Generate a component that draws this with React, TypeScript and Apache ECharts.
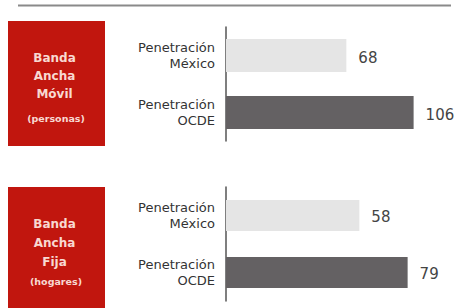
import React, { useEffect, useRef } from "react";
import * as echarts from "echarts";

const categories = ["Penetración\nMéxico", "Penetración\nOCDE"];
const movilValues = [68, 106];
const fijaValues = [58, 79];
const barColors = ["#e5e5e5", "#646163"];
const panel1Lines = ["Banda", "Ancha", "Móvil"];
const panel1Sub = "(personas)";
const panel2Lines = ["Banda", "Ancha", "Fija"];
const panel2Sub = "(hogares)";

const FONT = "DejaVu Sans";

function boxGraphics(top: number, lineYs: number[], lines: string[], sub: string, subY: number) {
  const els: any[] = [
    { type: "rect", shape: { x: 8, y: top, width: 97, height: 125 }, style: { fill: "#c1160e" } },
  ];
  lines.forEach((t, i) => {
    els.push({
      type: "text",
      x: 54.5,
      y: lineYs[i],
      style: {
        text: t,
        fill: "#f8d9d2",
        font: `bold 12px '${FONT}'`,
        align: "center",
        verticalAlign: "middle",
      },
    });
  });
  els.push({
    type: "text",
    x: 56,
    y: subY,
    style: {
      text: sub,
      fill: "#f8d9d2",
      font: `bold 9.5px '${FONT}'`,
      align: "center",
      verticalAlign: "middle",
    },
  });
  return els;
}

export default function App() {
  const ref = useRef<HTMLDivElement>(null);
  useEffect(() => {
    if (!ref.current) return;
    const chart = echarts.init(ref.current, null, { renderer: "svg" });
    const mkData = (vals: number[]) =>
      vals.map((v, i) => ({ value: v, itemStyle: { color: barColors[i] } }));
    const yAxisCommon = {
      type: "category",
      data: categories,
      inverse: true,
      axisTick: { show: false },
      axisLine: { show: true, lineStyle: { color: "#555", width: 1.5 } },
      axisLabel: {
        color: "#333",
        fontFamily: FONT,
        fontSize: 13,
        lineHeight: 16,
        align: "right",
        margin: 11,
      },
    };
    const labelCommon = {
      show: true,
      position: "right",
      distance: 12,
      color: "#444",
      fontFamily: FONT,
      fontSize: 15,
    };
    chart.setOption({
      animation: false,
      grid: [
        { left: 226, top: 27, width: 200, height: 114 },
        { left: 226, top: 187, width: 200, height: 114 },
      ],
      xAxis: [
        { type: "value", gridIndex: 0, min: 0, max: 113, show: false },
        { type: "value", gridIndex: 1, min: 0, max: 87, show: false },
      ],
      yAxis: [
        { ...yAxisCommon, gridIndex: 0 },
        { ...yAxisCommon, gridIndex: 1 },
      ],
      series: [
        {
          type: "bar",
          xAxisIndex: 0,
          yAxisIndex: 0,
          barWidth: 33,
          data: mkData(movilValues),
          label: { ...labelCommon, offset: [0, 2] },
        },
        {
          type: "bar",
          xAxisIndex: 1,
          yAxisIndex: 1,
          barWidth: 31,
          data: mkData(fijaValues),
          label: { ...labelCommon, offset: [0, 1] },
        },
      ],
      graphic: [
        {
          type: "line",
          shape: { x1: 18, y1: 5.5, x2: 451, y2: 5.5 },
          style: { stroke: "#8a8a8a", lineWidth: 2 },
        },
        ...boxGraphics(21, [58, 76, 94], panel1Lines, panel1Sub, 118),
        ...boxGraphics(187, [224, 243, 262], panel2Lines, panel2Sub, 281),
      ],
    });
    return () => chart.dispose();
  }, []);
  return (
    <div
      ref={ref}
      style={{ position: "fixed", left: 0, top: 0, width: 454, height: 308, background: "#fff" }}
    />
  );
}
